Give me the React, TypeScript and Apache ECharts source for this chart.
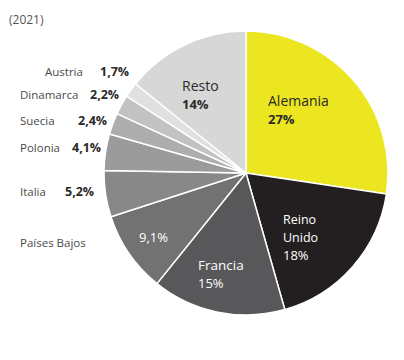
import React, { useEffect, useRef } from "react";
import * as echarts from "echarts";

const categories = ["Alemania", "Reino Unido", "Francia", "Países Bajos", "Italia", "Polonia", "Suecia", "Dinamarca", "Austria", "Resto"];
const values = [27, 18, 15, 9.1, 5.2, 4.1, 2.4, 2.2, 1.7, 14];
const year = "(2021)";

const colors = ["#ebe620", "#231f20", "#58585a", "#727272", "#888888", "#9b9b9b", "#adadad", "#c2c2c2", "#e0e0e0", "#d7d7d7"];
// label anchor positions [x, y, verticalAlign]
const labelPos: [number, number, string][] = [
  [268, 93, "top"],
  [283, 211, "top"],
  [198, 257, "top"],
  [20, 242, "middle"],
  [20, 191, "middle"],
  [20, 147, "middle"],
  [20, 120, "middle"],
  [20, 94, "middle"],
  [45, 71, "middle"],
  [182, 78, "top"],
];
const nameWidths = [0, 0, 0, 0, 45, 52, 58, 70, 55, 0];
const innerValuePos: [number, number] = [139, 237];

const fmt = (v: number) => String(v).replace(".", ",") + "%";

export default function App() {
  const ref = useRef<HTMLDivElement>(null);
  useEffect(() => {
    const chart = echarts.init(ref.current!, null, { renderer: "svg" });
    const font = "Open Sans";
    const rich: any = {
      dn: { fontFamily: font, fontSize: 14, color: "#2a2a2a", lineHeight: 15 },
      dv: { fontFamily: font, fontSize: 13, fontWeight: "bold", color: "#2a2a2a", lineHeight: 21 },
      wn: { fontFamily: font, fontSize: 13.5, color: "#ffffff", lineHeight: 15 },
      rn: { fontFamily: font, fontSize: 12.5, color: "#ffffff", lineHeight: 17.5 },
      wv: { fontFamily: font, fontSize: 13, fontWeight: 500, color: "#ffffff", lineHeight: 21 },
      rv: { fontFamily: font, fontSize: 13, fontWeight: 500, color: "#ffffff", lineHeight: 18 },
      v: { fontFamily: font, fontSize: 12.5, fontWeight: "bold", color: "#2a2a2a" },
      pb: { fontFamily: font, fontSize: 11.5, color: "#4a4a4a" },
    };
    nameWidths.forEach((w, i) => {
      if (w) rich["n" + i] = { fontFamily: font, fontSize: 11.5, color: "#4a4a4a", width: w };
    });
    const formatter = (p: any) => {
      const i = p.dataIndex;
      const name = categories[i];
      const val = fmt(values[i]);
      if (i === 0 || i === 9) return `{dn|${name}}\n{dv|${val}}`;
      if (i === 1) return `{rn|Reino}\n{rn|Unido}\n{rv|${val}}`;
      if (i === 2) return `{wn|${name}}\n{wv|${val}}`;
      if (i === 3) return `{pb|${name}}`;
      return `{n${i}|${name}}{v|${val}}`;
    };
    const data = categories.map((c, i) => ({
      name: c,
      value: values[i],
      itemStyle: { color: colors[i] },
    }));
    chart.setOption({
      animation: false,
      graphic: [
        {
          type: "text",
          left: 9,
          top: 13,
          style: { text: year, fontFamily: font, fontSize: 12, fill: "#555555" },
        },
      ],
      series: [
        {
          type: "pie",
          center: [246, 173],
          radius: 142,
          startAngle: 90,
          clockwise: true,
          silent: true,
          itemStyle: { borderColor: "#ffffff", borderWidth: 1.5 },
          label: { show: true, position: "inside", formatter, rich },
          labelLine: { show: false },
          labelLayout: (p: any) => {
            const pos = labelPos[p.dataIndex];
            return { x: pos[0], y: pos[1], align: "left", verticalAlign: pos[2] };
          },
          data,
        },
        {
          type: "pie",
          center: [246, 173],
          radius: 142,
          startAngle: 90,
          clockwise: true,
          silent: true,
          itemStyle: { color: "rgba(0,0,0,0)", borderWidth: 0 },
          label: {
            show: true,
            position: "inside",
            formatter: (p: any) => (p.dataIndex === 3 ? "{wv|" + fmt(values[3]) + "}" : ""),
            rich: { wv: rich.wv },
          },
          labelLine: { show: false },
          labelLayout: (p: any) =>
            p.dataIndex === 3
              ? { x: innerValuePos[0], y: innerValuePos[1], align: "left", verticalAlign: "middle" }
              : {},
          data: categories.map((c, i) => ({ name: c, value: values[i] })),
        },
      ],
    });
    return () => chart.dispose();
  }, []);
  return <div ref={ref} style={{ position: "fixed", left: 0, top: 0, width: 404, height: 360, background: "#fff" }} />;
}
